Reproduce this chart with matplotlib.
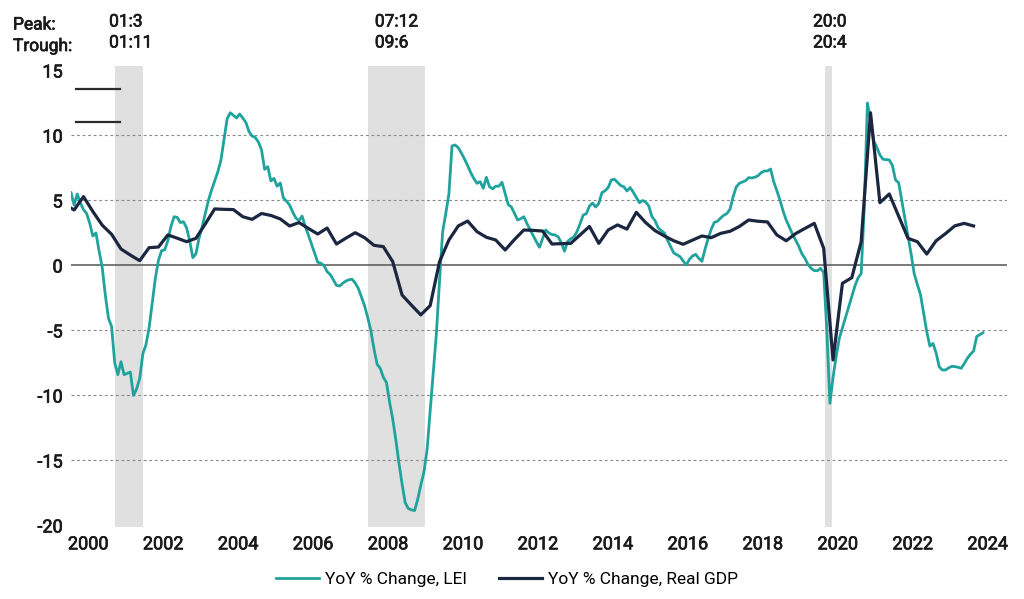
import matplotlib.pyplot as plt
import matplotlib.patheffects as pe
import numpy as np

# LEI, YoY % change, monthly from Jan 2000
lei = [
    5.6, 4.65, 5.5, 4.8, 4.3, 4.0, 3.25, 2.27, 2.5, 1.1, -0.15, -2.3,            # 2000
    -4.06, -4.7, -7.5, -8.4, -7.4, -8.4, -8.3, -8.2, -10.0, -9.5, -8.7, -6.8,    # 2001
    -6.1, -4.8, -2.9, -1.0, 0.4, 1.14, 1.2, 1.9, 3.0, 3.75, 3.7, 3.3,            # 2002
    3.37, 2.9, 1.9, 0.6, 0.9, 2.1, 3.0, 4.0, 5.0, 5.8, 6.5, 7.2,                 # 2003
    8.1, 9.7, 11.3, 11.75, 11.55, 11.35, 11.65, 11.35, 11.0, 10.3, 9.95, 9.85,   # 2004
    9.5, 8.9, 7.4, 7.6, 6.5, 6.7, 6.1, 6.35, 5.2, 4.95, 4.65, 4.1,               # 2005
    3.65, 3.45, 3.8, 3.0, 2.35, 1.65, 0.96, 0.25, 0.17, 0.0, -0.47, -0.7,        # 2006
    -1.1, -1.53, -1.58, -1.37, -1.2, -1.1, -1.06, -1.35, -1.76, -2.42, -3.1, -4.0,  # 2007
    -5.0, -6.4, -7.6, -7.9, -8.6, -9.0, -10.5, -11.8, -13.4, -15.2, -16.8, -18.25,  # 2008
    -18.7, -18.8, -18.86, -18.0, -16.9, -15.9, -14.2, -11.2, -8.2, -5.2, -1.17, 2.6,  # 2009
    4.0, 5.5, 9.2, 9.27, 9.06, 8.65, 8.19, 7.68, 7.14, 6.68, 6.32, 6.45,         # 2010
    5.94, 6.78, 6.06, 5.9, 6.1, 6.1, 6.4, 5.55, 4.68, 4.5, 4.01, 3.5,            # 2011
    3.6, 3.75, 3.22, 2.76, 2.29, 1.83, 1.4, 2.06, 2.73, 2.5, 2.38, 2.35,         # 2012
    2.2, 1.75, 1.1, 1.85, 2.05, 2.2, 2.6, 3.22, 3.88, 3.98, 4.58, 4.8,           # 2013
    4.5, 4.78, 5.6, 5.75, 6.0, 6.58, 6.63, 6.4, 6.15, 6.06, 5.73, 6.0,           # 2014
    5.65, 5.24, 4.83, 5.0, 4.88, 4.58, 3.76, 3.45, 2.9, 2.68, 2.5, 1.94,         # 2015
    1.45, 0.96, 0.83, 0.68, 0.35, 0.04, 0.47, 0.73, 0.86, 0.55, 0.32, 1.24,      # 2016
    2.06, 2.8, 3.32, 3.4, 3.65, 3.86, 3.99, 4.32, 5.29, 6.04, 6.32, 6.42,        # 2017
    6.53, 6.76, 6.73, 6.79, 6.91, 7.14, 7.27, 7.27, 7.42, 6.45, 5.76, 5.04,      # 2018
    4.19, 3.5, 2.96, 2.42, 1.96, 1.5, 0.91, 0.55, 0.06, -0.22, -0.4, -0.4,       # 2019
    -0.22, -0.55, -5.0, -10.6, -8.6, -7.0, -5.6, -4.8, -4.0, -3.2, -2.42, -1.58,  # 2020
    -0.96, -0.63, 4.5, 12.5, 11.2, 9.6, 9.1, 8.5, 8.17, 8.14, 8.12, 7.7,         # 2021
    6.58, 6.37, 5.0, 3.63, 2.3, 0.88, -0.65, -1.47, -2.24, -3.68, -5.09, -6.2,   # 2022
    -6.0, -6.73, -7.8, -8.04, -8.04, -7.88, -7.76, -7.78, -7.83, -7.91, -7.55, -7.14,  # 2023
    -6.83, -6.58, -5.47, -5.32, -5.17,                                          # 2024
]

# Real GDP, YoY % change, quarterly from 1999Q4 (plotted mid-quarter)
gdp = [
    4.7,
    4.27, 5.3, 4.15, 3.1,
    2.4, 1.27, 0.8, 0.37,
    1.37, 1.42, 2.35, 2.1,
    1.83, 2.09, 3.2, 4.35,
    4.32, 4.3, 3.75, 3.55,
    4.0, 3.85, 3.58, 3.04,
    3.3, 2.85, 2.42, 2.88,
    1.65, 2.1, 2.52, 2.14,
    1.55, 1.45, 0.3, -2.27,
    -3.05, -3.8, -3.09, 0.3,
    1.96, 3.04, 3.42, 2.6,
    2.17, 1.96, 1.19, 2.0,
    2.73, 2.7, 2.65, 1.65,
    1.68, 1.7, 2.35, 3.0,
    1.7, 2.73, 3.12, 2.8,
    4.09, 3.3, 2.68, 2.27,
    1.9, 1.63, 1.95, 2.27,
    2.14, 2.47, 2.63, 3.0,
    3.5, 3.4, 3.35, 2.35,
    1.9, 2.45, 2.85, 3.24,
    1.32, -7.27, -1.37, -0.94,
    1.83, 11.75, 4.83, 5.5,
    3.8, 2.09, 1.83, 0.88,
    1.9, 2.45, 3.05, 3.24,
    3.04,
]

# recessions (month index from Jan 2000) and their labels
recessions = [(14, 23), (95, 113.5), (241.3, 243.6)]
peak_labels = ['01:3', '07:12', '20:0']
trough_labels = ['01:11', '09:6', '20:4']
label_x = [12.2, 97.3, 237.6]

years = list(range(2000, 2025, 2))

teal = '#1fa39c'
navy = '#1b2640'
txt = '#1a1a1a'
bolder = [pe.withStroke(linewidth=0.5, foreground=txt)]

plt.rcParams['font.family'] = ['Roboto', 'DejaVu Sans']

fig = plt.figure(figsize=(10.24, 5.99), dpi=100)
ax = fig.add_axes([71 / 1024, 72 / 599, 935.7 / 1024, 461.3 / 599])

lei_x = np.arange(len(lei))
gdp_x = np.arange(len(gdp)) * 3 - 2

for (a, b) in recessions:
    ax.axvspan(a, b, color='#e0e0e0', lw=0, zorder=0)

for v in [10, 5, -5, -10, -15]:
    ax.axhline(v, color='#8a8a8a', lw=0.8, ls=(0, (2.5, 2.5)), zorder=1)
ax.axhline(0, color='#555555', lw=1.1, zorder=2)

ax.plot(lei_x, lei, color=teal, lw=2.0, zorder=3, label='YoY % Change, LEI')
ax.plot(gdp_x, gdp, color=navy, lw=2.3, zorder=4, label='YoY % Change, Real GDP')

# two short dark marks at top left
ax.plot([0.0053, 0.0524], [0.9495, 0.9495], color='#2b2b2b', lw=1.6,
        transform=ax.transAxes, clip_on=False)
ax.plot([0.0053, 0.0524], [0.8786, 0.8786], color='#2b2b2b', lw=1.6,
        transform=ax.transAxes, clip_on=False)

ax.set_xlim(0, 299.6)
ax.set_ylim(-20.12, 15.37)
ax.set_yticks([15, 10, 5, 0, -5, -10, -15, -20])
ax.set_yticklabels(['15', '10', '5', '0', '-5', '-10', '-15', '-20'])
ax.set_xticks([(y - 2000) * 12 + 5.5 for y in years])
ax.set_xticklabels([str(y) for y in years])
ax.tick_params(axis='both', length=0, labelsize=13, colors=txt)
ax.tick_params(axis='y', pad=6)
ax.tick_params(axis='x', pad=6)
for lab in ax.get_xticklabels() + ax.get_yticklabels():
    lab.set_path_effects(bolder)
for s in ax.spines.values():
    s.set_visible(False)

# peak / trough header
fig.text(13 / 1024, 1 - 25 / 599, 'Peak:', fontsize=12.5, va='center', color=txt,
         path_effects=bolder)
fig.text(13 / 1024, 1 - 46.5 / 599, 'Trough:', fontsize=12.5, va='center', color=txt,
         path_effects=bolder)
for xp, p, t in zip(label_x, peak_labels, trough_labels):
    ax.annotate(p, xy=(xp, 1 - 22 / 599), xycoords=('data', 'figure fraction'),
                fontsize=12.5, va='center', ha='left', color=txt, annotation_clip=False,
                path_effects=bolder)
    ax.annotate(t, xy=(xp, 1 - 43 / 599), xycoords=('data', 'figure fraction'),
                fontsize=12.5, va='center', ha='left', color=txt, annotation_clip=False,
                path_effects=bolder)

fig.legend(loc='center', bbox_to_anchor=(0.495, 1 - 579 / 599), ncol=2, frameon=False,
           fontsize=12.5, handlelength=2.5, handletextpad=0.35, columnspacing=1.8)

plt.savefig('out.png', dpi=100)
